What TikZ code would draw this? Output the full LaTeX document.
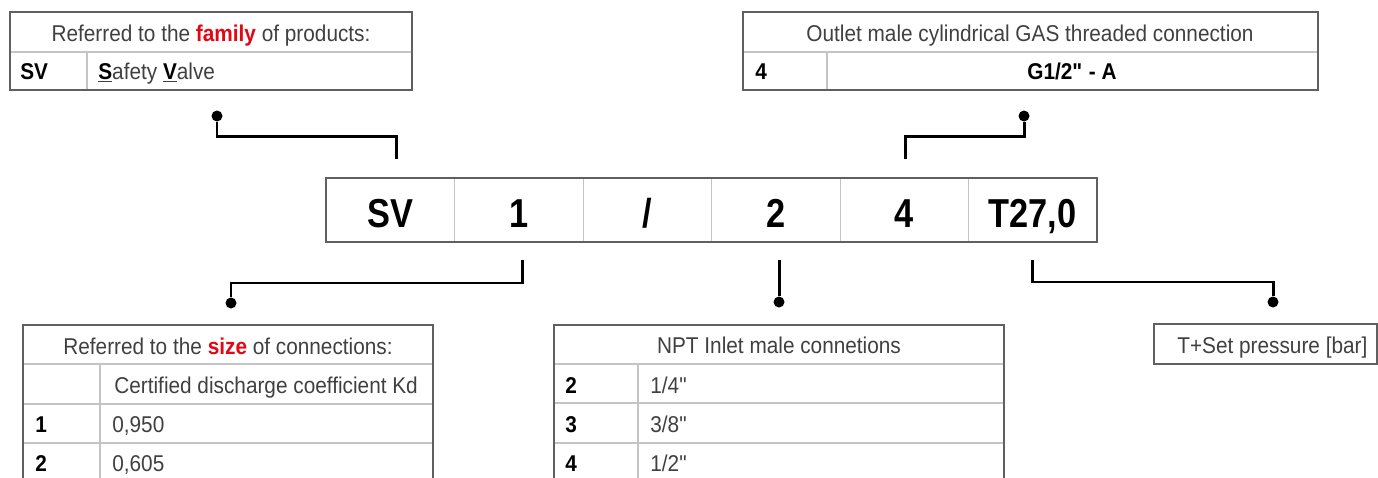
\documentclass[tikz,border=0pt]{standalone}
\usepackage{fontspec}
\setmainfont{Liberation Sans}[FakeStretch=0.91]
\newfontfamily\codefont{Liberation Sans}[FakeStretch=0.85]
\usetikzlibrary{positioning}

\definecolor{codered}{HTML}{E30613}
\definecolor{frame}{HTML}{606060}
\definecolor{grid}{HTML}{C4C4C4}
\definecolor{txt}{HTML}{404040}

\newcommand{\hotword}[1]{\textcolor{codered}{\bfseries #1}}
\newcommand{\capinit}[1]{\underline{\textcolor{black}{\bfseries #1}}}

\tikzset{
  cell/.style={draw=grid, anchor=west, minimum width=2.57cm, minimum height=1.28cm,
    inner sep=0pt, outer sep=0pt, text height=0.68cm, text depth=0pt,
    font=\codefont\fontsize{23}{23}\selectfont\bfseries},
  lbl/.style={inner sep=0pt, text=txt, font=\fontsize{13}{15}\selectfont},
  key/.style={inner sep=0pt, anchor=base west, font=\fontsize{13}{15}\selectfont\bfseries},
  frame/.style={draw=frame, line width=0.8pt},
  grid/.style={draw=grid, line width=0.6pt},
  lead/.style={line width=1.7pt},
  dot/.style={circle, fill, inner sep=0pt, minimum size=0.22cm},
}

\begin{document}
\begin{tikzpicture}[x=0.02cm, y=-0.02cm]
  \useasboundingbox (0,0) rectangle (1378,477);
  \clip (0,0) rectangle (1378,477);

  % Code row
  \node[cell] (family) at (326,210) {SV};
  \node[cell, right=0pt of family] (size) {1};
  \node[cell, right=0pt of size] (slash) {/};
  \node[cell, right=0pt of slash] (inlet) {2};
  \node[cell, right=0pt of inlet] (outlet) {4};
  \node[cell, right=0pt of outlet] (press) {T27,0};
  \draw[frame] (family.north west) rectangle (press.south east);

  % Family table (top left)
  \draw[grid] (10,52) -- (412,52) (87,52) -- (87,90);
  \draw[frame] (10,12) rectangle (412,90);
  \node[lbl, anchor=base] (famhead) at (211,41) {Referred to the \hotword{family} of products:};
  \node[key] (famkey) at (20,79) {SV};
  \node[lbl, anchor=base west] (famtext) at (98,79) {\capinit{S}afety \capinit{V}alve};

  % Outlet table (top right)
  \draw[grid] (743,52) -- (1318,52) (827,52) -- (827,90);
  \draw[frame] (743,12) rectangle (1318,90);
  \node[lbl, anchor=base] (outhead) at (1030,41) {Outlet male cylindrical GAS threaded connection};
  \node[key] (outkey) at (755,79) {4};
  \node[key, anchor=base] (outval) at (1072,79) {G1/2\textquotedbl{} - A};

  % Size table (bottom left)
  \foreach \y in {364,404,443} \draw[grid] (23,\y) -- (433,\y);
  \draw[grid] (100,364) -- (100,483);
  \draw[frame] (23,325) rectangle (433,483);
  \node[lbl, anchor=base] (sizehead) at (228,354) {Referred to the \hotword{size} of connections:};
  \node[lbl, anchor=base west] (kdhead) at (114,393) {Certified discharge coefficient Kd};
  \node[key] (sizekeyA) at (35,432) {1};
  \node[lbl, anchor=base west] (sizevalA) at (112,432) {0,950};
  \node[key] (sizekeyB) at (35,471) {2};
  \node[lbl, anchor=base west] (sizevalB) at (112,471) {0,605};

  % Inlet table (bottom middle)
  \foreach \y in {364,403,443} \draw[grid] (554,\y) -- (1004,\y);
  \draw[grid] (638,364) -- (638,483);
  \draw[frame] (554,325) rectangle (1004,483);
  \node[lbl, anchor=base] (inlethead) at (779,353) {NPT Inlet male connetions};
  \node[key] (inkeyA) at (565,393) {2};
  \node[lbl, anchor=base west] (invalA) at (650,393) {1/4\textquotedbl};
  \node[key] (inkeyB) at (565,432) {3};
  \node[lbl, anchor=base west] (invalB) at (650,432) {3/8\textquotedbl};
  \node[key] (inkeyC) at (565,471) {4};
  \node[lbl, anchor=base west] (invalC) at (650,471) {1/2\textquotedbl};

  % Set pressure box (bottom right)
  \draw[frame] (1154,324) rectangle (1377,364);
  \node[lbl, anchor=base west] (presstext) at (1177,353) {T+Set pressure [bar]};

  % Leads from the code row
  \node[dot] (famdot) at (217,116) {};
  \draw[lead] ([xshift=0.12cm, yshift=0.38cm]family.north) -- ++(0,-23) -| (famdot);
  \node[dot] (outdot) at (1024,116) {};
  \draw[lead] ([xshift=0.02cm, yshift=0.38cm]outlet.north) -- ++(0,-23) -| (outdot);
  \node[dot] (sizedot) at (231,303) {};
  \draw[lead] ([xshift=0.07cm, yshift=-0.36cm]size.south) -- ++(0,23) -| (sizedot);
  \coordinate (inlettop) at ([xshift=0.07cm, yshift=-0.36cm]inlet.south);
  \node[dot] (inletdot) at (779,302) {};
  \draw[lead] (inlettop) -- (inlettop |- inletdot.north);
  \node[dot] (pressdot) at (1273,302) {};
  \draw[lead] ([yshift=-0.36cm]press.south) -- ++(0,22) -| (pressdot);
\end{tikzpicture}
\end{document}
